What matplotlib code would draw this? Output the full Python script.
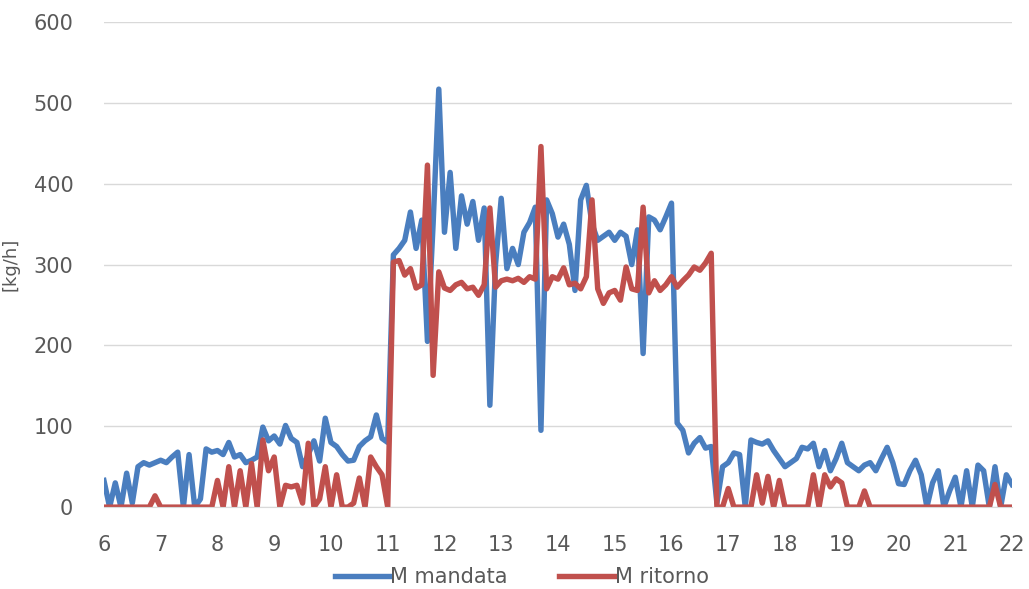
import numpy as np
import matplotlib.pyplot as plt

# hours of the day, sampled every 6 minutes
hours = np.round(np.arange(6.0, 22.0001, 0.1), 1)

m_mandata = [
    33, 0, 30, 0, 42, 5, 50, 55, 52, 55,          # 6.0 - 6.9
    58, 55, 62, 68, 0, 65, 0, 10, 72, 68,         # 7.0 - 7.9
    70, 65, 80, 62, 65, 55, 58, 62, 99, 82,       # 8.0 - 8.9
    88, 78, 101, 85, 80, 50, 65, 82, 57, 110,     # 9.0 - 9.9
    80, 75, 65, 57, 58, 75, 82, 87, 114, 85,      # 10.0 - 10.9
    80, 312, 320, 330, 365, 320, 355, 205, 350, 517,   # 11.0 - 11.9
    340, 414, 320, 385, 350, 378, 330, 370, 126, 300,  # 12.0 - 12.9
    382, 295, 320, 300, 340, 352, 371, 95, 380, 363,   # 13.0 - 13.9
    334, 350, 325, 268, 380, 398, 350, 330, 335, 340,  # 14.0 - 14.9
    330, 340, 335, 300, 343, 190, 359, 355, 343, 359,  # 15.0 - 15.9
    376, 104, 95, 67, 79, 86, 73, 75, 5, 50,           # 16.0 - 16.9
    55, 67, 65, 0, 83, 80, 78, 82, 70, 60,        # 17.0 - 17.9
    50, 55, 60, 74, 72, 79, 50, 70, 45, 60,       # 18.0 - 18.9
    79, 55, 50, 45, 52, 55, 45, 60, 74, 55,       # 19.0 - 19.9
    29, 28, 45, 58, 40, 0, 30, 45, 0, 20,         # 20.0 - 20.9
    37, 0, 45, 0, 52, 45, 0, 50, 0, 40,           # 21.0 - 21.9
    28,                                           # 22.0
]

m_ritorno = [
    0, 0, 0, 0, 0, 0, 0, 0, 0, 14,                # 6.0 - 6.9
    0, 0, 0, 0, 0, 0, 0, 0, 0, 0,                 # 7.0 - 7.9
    33, 0, 50, 0, 45, 0, 54, 0, 83, 45,           # 8.0 - 8.9
    62, 0, 27, 25, 27, 5, 79, 0, 10, 50,          # 9.0 - 9.9
    0, 40, 0, 0, 5, 36, 0, 62, 50, 40,            # 10.0 - 10.9
    0, 303, 305, 287, 295, 271, 275, 423, 163, 291,    # 11.0 - 11.9
    271, 268, 275, 278, 270, 272, 262, 275, 370, 272,  # 12.0 - 12.9
    280, 282, 280, 283, 278, 285, 282, 446, 270, 285,  # 13.0 - 13.9
    282, 296, 275, 277, 270, 285, 380, 270, 252, 265,  # 14.0 - 14.9
    268, 256, 297, 270, 268, 371, 265, 280, 268, 275,  # 15.0 - 15.9
    285, 272, 280, 287, 297, 293, 302, 314, 0, 0,      # 16.0 - 16.9
    23, 0, 0, 0, 0, 40, 5, 38, 0, 33,             # 17.0 - 17.9
    0, 0, 0, 0, 0, 40, 0, 40, 25, 35,             # 18.0 - 18.9
    30, 0, 0, 0, 20, 0, 0, 0, 0, 0,               # 19.0 - 19.9
    0, 0, 0, 0, 0, 0, 0, 0, 0, 0,                 # 20.0 - 20.9
    0, 0, 0, 0, 0, 0, 0, 28, 0, 0,                # 21.0 - 21.9
    0,                                            # 22.0
]

x_ticks = list(range(6, 23))
y_ticks = [0, 100, 200, 300, 400, 500, 600]

grey = '#595959'

fig = plt.figure(figsize=(10.29, 5.89), dpi=100)
ax = fig.add_axes([0.101, 0.139, 0.8825, 0.8236])

ax.plot(hours, m_mandata, color='#4A7EBF', lw=3.9, label='M mandata', solid_joinstyle='round')
ax.plot(hours, m_ritorno, color='#C0504D', lw=3.9, label='M ritorno', solid_joinstyle='round')

ax.set_xlim(6, 22)
ax.set_ylim(0, 600)
ax.set_xticks(x_ticks)
ax.set_yticks(y_ticks)
ax.tick_params(length=0, labelsize=15, labelcolor=grey)
ax.tick_params(axis='x', pad=20)
ax.tick_params(axis='y', pad=22)
ax.grid(axis='y', color='#D9D9D9', lw=1)
ax.set_axisbelow(True)
for side in ['top', 'right', 'left']:
    ax.spines[side].set_visible(False)
ax.spines['bottom'].set_color('#D9D9D9')

ax.set_ylabel('[kg/h]', color=grey, fontsize=13)
ax.yaxis.set_label_coords(-0.093, 0.5)

ax.legend(loc='upper center', bbox_to_anchor=(0.46, -0.085), ncol=2, frameon=False,
          fontsize=15, labelcolor=grey, handlelength=2.6, handletextpad=0.05, columnspacing=2.5)

fig.savefig('out.png', dpi=100)
